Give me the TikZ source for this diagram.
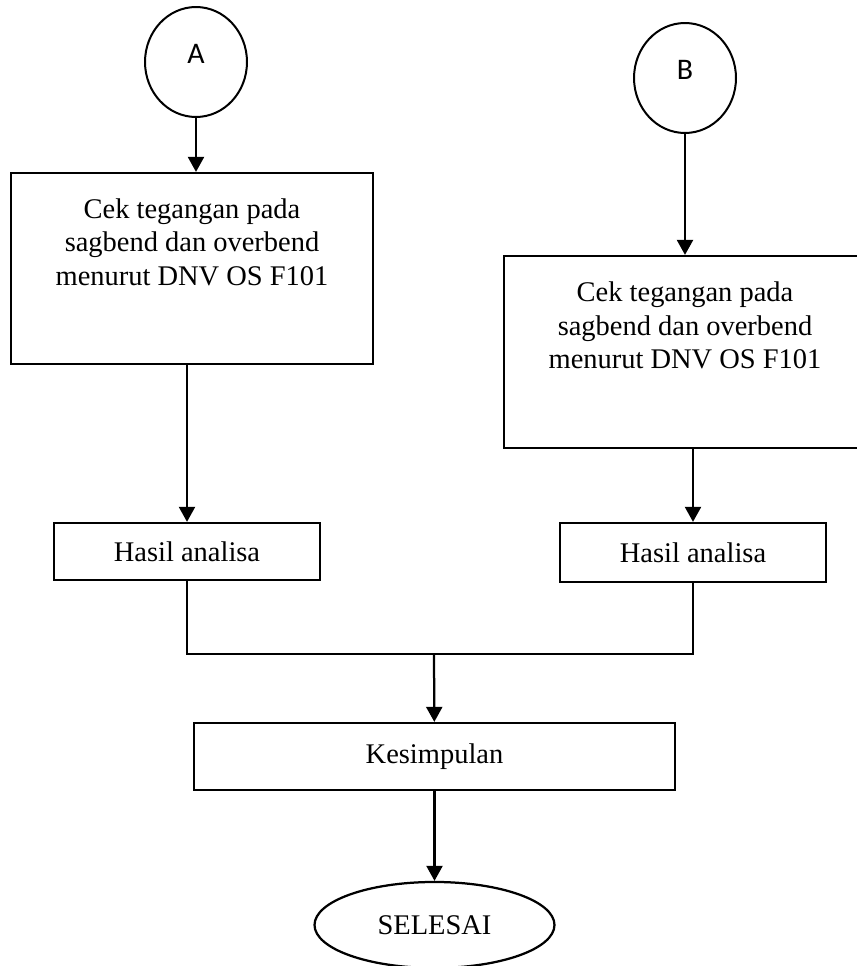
\documentclass[tikz,border=0pt]{standalone}
\usepackage{fontspec}
\setmainfont{Liberation Serif}
\newfontfamily\labelfont{Carlito}
\usetikzlibrary{shapes.geometric,arrows.meta}
\tikzset{
    proses/.style={
           rectangle,
           draw=black, line width=0.045cm,
           inner sep=2pt,
           align=center,
           font=\fontsize{16.2}{19}\selectfont
           },
    konektor/.style={
           ellipse,
           draw=black, line width=0.04cm,
           minimum width=2.04cm, minimum height=2.2cm,
           inner sep=0pt,
           text height=0.34cm, text depth=0.28cm,
           font=\labelfont\fontsize{17}{20}\selectfont
           },
    terminal/.style={
           ellipse,
           draw=black, line width=0.045cm,
           minimum width=4.8cm, minimum height=1.72cm,
           inner sep=0pt,
           font=\fontsize{16.2}{19}\selectfont
           },
}

\begin{document}
\begin{tikzpicture}[x=0.02cm,y=-0.02cm,>={Triangle[width=0.32cm,length=0.3cm]},line width=0.045cm]

    \useasboundingbox (0,0) rectangle (857,966);

    % konektor awal
    \node[konektor] (A) at (196,62) {A};
    \node[konektor] (B) at (685,78) {B};

    \node[proses,
          minimum width=7.24cm, minimum height=3.82cm
          ] (cek1) at (192,268.5)
    {Cek tegangan pada\\ sagbend dan overbend\\ menurut DNV OS F101\\[0.4cm]\mbox{}};

    \node[proses,
          minimum width=7.24cm, minimum height=3.84cm
          ] (cek2) at (685,352)
    {Cek tegangan pada\\ sagbend dan overbend\\ menurut DNV OS F101\\[0.4cm]\mbox{}};

    \node[proses,
          minimum width=5.32cm, minimum height=1.14cm,
          below of=cek1,
          node distance=5.66cm,
          anchor=center,
          xshift=-0.1cm
          ] (hasil1) {Hasil analisa};

    \node[proses,
          minimum width=5.32cm, minimum height=1.18cm,
          below of=cek2,
          node distance=4.01cm,
          anchor=center,
          xshift=0.16cm
          ] (hasil2) {Hasil analisa};

    \node[proses,
          minimum width=9.62cm, minimum height=1.34cm
          ] (simpul) at (434.5,756.5) {Kesimpulan};

    \node[terminal,
          below of=simpul,
          node distance=3.37cm,
          anchor=center
          ] (selesai) {SELESAI};

    \coordinate (gabung) at (434,654);

    % garis gabungan
    \draw (hasil1) |- (gabung) -| (hasil2);

    \path[->]
    (A)                   edge (A |- cek1.north)
    (B)                   edge (cek2)
    (hasil1 |- cek1.south) edge (hasil1)
    (hasil2 |- cek2.south) edge (hasil2)
    (gabung)              edge (simpul)
    (simpul)              edge (selesai)
    ;

\end{tikzpicture}
\end{document}
